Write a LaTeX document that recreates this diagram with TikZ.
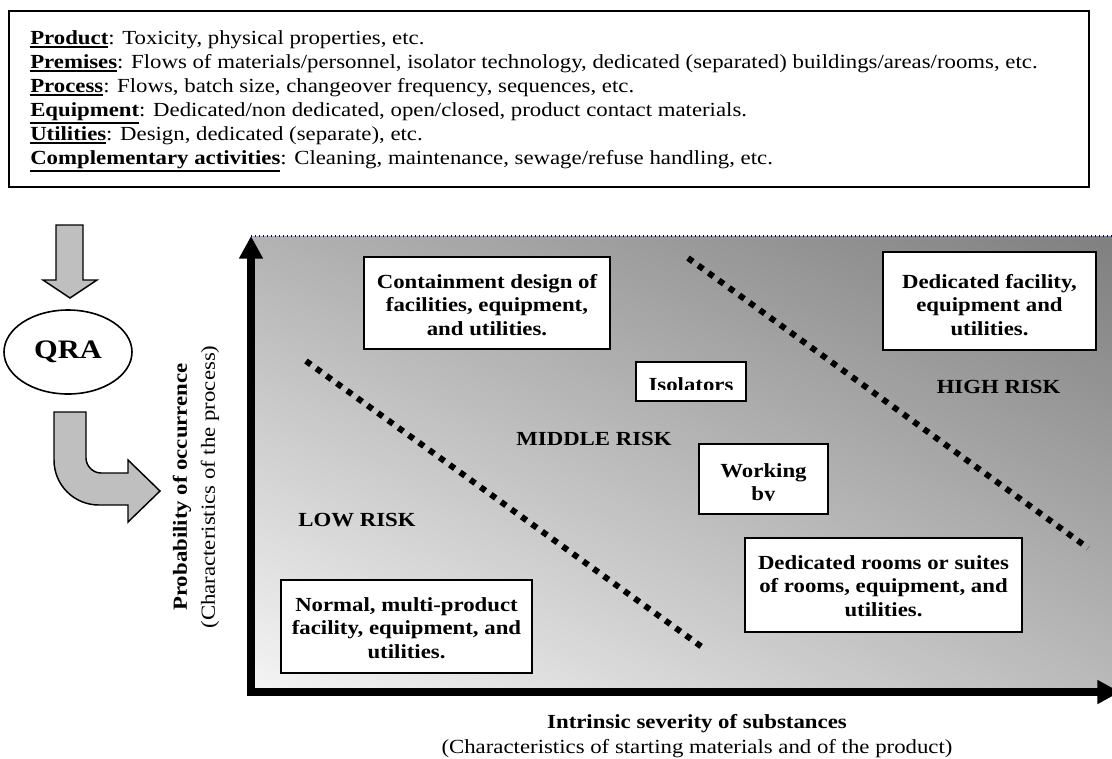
\documentclass[tikz,border=0pt]{standalone}
\usepackage{fontspec}
\setmainfont[FakeStretch=1.14]{Liberation Serif}
\usetikzlibrary{arrows.meta,shapes.geometric,shadings}
\newcommand\myul[1]{\setbox0\hbox{#1}\leavevmode\rlap{\rule[-\dimexpr\dp0+2.4pt\relax]{\wd0}{1pt}}\box0}
\begin{document}
\begin{tikzpicture}[x=0.75pt,y=-0.75pt,
  txt/.style={inner sep=0pt, font=\fontsize{15pt}{17.6pt}\selectfont},
  btxt/.style={inner sep=0pt, font=\fontsize{15pt}{17.6pt}\selectfont\bfseries},
  facttxt/.style={inner sep=0pt, align=left, font=\fontsize{15pt}{18pt}\selectfont},
  wbox/.style={draw, line width=1.5pt, fill=white, inner sep=0pt},
  blockarrow/.style={draw, line width=1.1pt, fill=black!25, line join=miter},
  axisline/.style={line width=5.6pt, -{Triangle[width=17pt,length=17pt]}},
  riskline/.style={line width=4.5pt, dash pattern=on 4.5pt off 5pt},
]
\useasboundingbox (0,0) rectangle (1112,758);

% ---- top box with factors
\node[wbox, minimum width=810pt, minimum height=132pt] (factbox) at (549,99) {};
\node[facttxt, anchor=north west] (facts) at (30,30) {%
\myul{\textbf{Product}}: Toxicity, physical properties, etc.\\
\myul{\textbf{Premises}}: Flows of materials/personnel, isolator technology, dedicated (separated) buildings/areas/rooms, etc.\\
\myul{\textbf{Process}}: Flows, batch size, changeover frequency, sequences, etc.\\
\myul{\textbf{Equipment}}: Dedicated/non dedicated, open/closed, product contact materials.\\
\myul{\textbf{Utilities}}: Design, dedicated (separate), etc.\\
\myul{\textbf{Complementary activities}}: Cleaning, maintenance, sewage/refuse handling, etc.};

% ---- QRA and block arrows
\draw[blockarrow] (56,225) -- (83,225) -- (83,280) -- (97,280) -- (70,298) -- (43,280) -- (56,280) -- cycle;
\node[draw, ellipse, line width=1.2pt, minimum width=96pt, minimum height=63pt, inner sep=0pt,
      font=\fontsize{20pt}{24pt}\selectfont\bfseries] (qra) at (68,352) {QRA};
\draw[blockarrow] (54,412) -- (86,412) -- (86,458) .. controls (86,466) and (93,473) .. (101,473)
  -- (128,473) -- (128,460) -- (160,491) -- (128,522) -- (128,505) -- (99,505)
  .. controls (74,505) and (54,485) .. (54,460) -- cycle;

% ---- shaded risk field
\shade[upper left=black!30, upper right=black!50, lower left=black!4, lower right=black!27]
  (251,236) rectangle (1112,692);
\coordinate (topL) at (251,236);
\coordinate (topR) at (1112,236);
\draw[color={rgb,255:red,0;green,0;blue,140}, line width=0.9pt, dash pattern=on 0.9pt off 2.1pt] (topL) -- (topR);

% ---- axes
\coordinate (O) at (251,692);
\coordinate (ytip) at (251,236);
\coordinate (xtip) at (1120,692);
\draw[axisline] ([yshift=-2.8pt]O) -- (ytip);
\draw[axisline] ([xshift=-2.8pt]O) -- (xtip);

% ---- risk boundaries
\coordinate (l1a) at (306,361);
\coordinate (l1b) at (702,647);
\coordinate (l2a) at (688,258);
\coordinate (l2b) at (1088,548);
\draw[riskline] (l1a) -- (l1b);
\draw[riskline] (l2a) -- (l2b);

% ---- boxes
\node[wbox, minimum width=184.5pt, minimum height=69pt] (contain) at (487,303) {};
\node[btxt, align=center, anchor=north] (containT) at (487,274) {Containment design of\\facilities, equipment,\\and utilities.};

\node[wbox, minimum width=159.75pt, minimum height=73.5pt] (dedfac) at (989.5,301) {};
\node[btxt, align=center, anchor=north] (dedfacT) at (989.5,274) {Dedicated facility,\\equipment and\\utilities.};

\node[wbox, minimum width=207.75pt, minimum height=70.5pt] (dedroom) at (883.5,585) {};
\node[btxt, align=center, anchor=north] (dedroomT) at (883.5,555) {Dedicated rooms or suites\\of rooms, equipment, and\\utilities.};

\node[wbox, minimum width=188.25pt, minimum height=69.75pt] (normal) at (406.5,626.5) {};
\node[btxt, align=center, anchor=north] (normalT) at (406.5,597) {Normal, multi-product\\facility, equipment, and\\utilities.};

\node[wbox, minimum width=82.5pt, minimum height=29.25pt] (iso) at (691,381.5) {};
\begin{scope}
  \clip (638,364) rectangle (744,389);
  \node[btxt, anchor=north] (isoT) at (691,377) {Isolators};
\end{scope}

\node[wbox, minimum width=96.75pt, minimum height=52.5pt] (work) at (763.5,479) {};
\begin{scope}
  \clip (701,446) rectangle (826,500.5);
  \node[btxt, align=center, anchor=north] (workT) at (763.5,463) {Working\\by};
\end{scope}

% ---- risk labels
\node[btxt] (low) at (357,520) {LOW RISK};
\node[btxt] (mid) at (594,439) {MIDDLE RISK};
\node[btxt] (high) at (998.5,387) {HIGH RISK};

% ---- axis labels
\node[btxt, rotate=90] (ylab1) at (182,487) {Probability of occurrence};
\node[txt, rotate=90] (ylab2) at (210,487) {(Characteristics of the process)};
\node[btxt, anchor=base] (xlab1) at (697,728) {Intrinsic severity of substances};
\node[txt, anchor=base] (xlab2) at (697,753) {(Characteristics of starting materials and of the product)};
\end{tikzpicture}
\end{document}
